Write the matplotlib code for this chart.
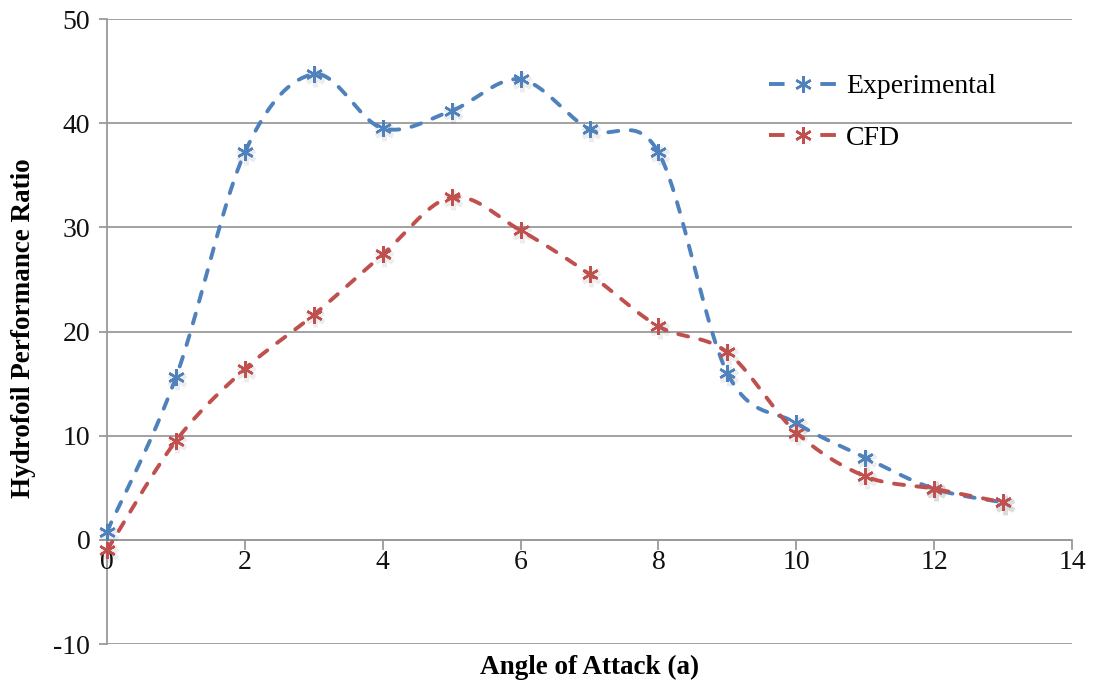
import numpy as np
import matplotlib
matplotlib.use("Agg")
import matplotlib.pyplot as plt
import matplotlib.transforms as mtransforms
from matplotlib.lines import Line2D

angles = [0, 1, 2, 3, 4, 5, 6, 7, 8, 9, 10, 11, 12, 13]
experimental = [0.8, 15.6, 37.2, 44.7, 39.5, 41.2, 44.2, 39.4, 37.2, 16.0, 11.2, 7.9, 4.9, 3.6]
cfd = [-1.0, 9.5, 16.4, 21.6, 27.4, 32.9, 29.7, 25.5, 20.5, 18.0, 10.3, 6.1, 4.9, 3.6]

series_names = ["Experimental", "CFD"]
series_colors = ["#4F81BD", "#C0504D"]
x_ticks = [0, 2, 4, 6, 8, 10, 12, 14]
y_ticks = [-10, 0, 10, 20, 30, 40, 50]

plt.rcParams["font.family"] = ["Liberation Serif", "DejaVu Serif"]


def smooth(xs, ys, n=40):
    """Bezier smoothing through every point (spreadsheet-style smoothed line)."""
    p = np.column_stack([xs, ys]).astype(float)
    out = []
    for i in range(len(p) - 1):
        p0 = p[i - 1] if i > 0 else p[i]
        p1, p2 = p[i], p[i + 1]
        p3 = p[i + 2] if i + 2 < len(p) else p[i + 1]
        c1 = p1 + (p2 - p0) / 6.0
        c2 = p2 - (p3 - p1) / 6.0
        t = np.linspace(0, 1, n)[:, None]
        seg = ((1 - t) ** 3) * p1 + 3 * ((1 - t) ** 2) * t * c1 + 3 * (1 - t) * t ** 2 * c2 + t ** 3 * p2
        out.append(seg if i == 0 else seg[1:])
    arr = np.vstack(out)
    return arr[:, 0], arr[:, 1]


fig = plt.figure(figsize=(11.01, 6.88), dpi=100)
ax = fig.add_axes([107 / 1101, 1 - 644 / 688, (1072 - 107) / 1101, (644 - 19) / 688])
ax.set_xlim(0, 14)
ax.set_ylim(-10, 50)

grid_c = "#9A9A9A"
for yv in y_ticks:
    ax.axhline(yv, color=grid_c, lw=1.3, zorder=1)

for s in ["top", "right", "bottom"]:
    ax.spines[s].set_visible(False)
ax.spines["left"].set_color(grid_c)
ax.spines["left"].set_linewidth(1.3)

# horizontal axis crosses at zero
ax.axhline(0, color=grid_c, lw=1.3, zorder=1)
for xv in x_ticks:
    ax.plot([xv, xv], [0, -0.9], color=grid_c, lw=1.3, clip_on=False, zorder=1)
    ax.text(xv, -1.0, str(xv), ha="center", va="top", fontsize=20, color="#111111")

ax.set_xticks([])
ax.set_yticks(y_ticks)
ax.set_yticklabels([str(v) for v in y_ticks], fontsize=20, color="#111111")
ax.tick_params(axis="y", length=6, width=1.3, color=grid_c, pad=6)

marker = (6, 2, 0)
line_kw = dict(lw=2.8, dashes=(2.6, 3.2), dash_capstyle="round")
shadow = mtransforms.offset_copy(ax.transData, fig=fig, x=1.5, y=-2.5, units="dots")
for ys, name, col in zip([experimental, cfd], series_names, series_colors):
    sx, sy = smooth(angles, ys)
    ax.plot(sx, sy, color=col, zorder=3, **line_kw)
    ax.plot(angles, ys, linestyle="none", marker=marker, markersize=14,
            markeredgewidth=3.5, color="#000000", alpha=0.07, zorder=2,
            transform=shadow, clip_on=False)
    ax.plot(angles, ys, linestyle="none", marker=marker, markersize=12,
            markeredgewidth=1.8, color=col, zorder=4, clip_on=False)

handles = [Line2D([], [], color=c, lw=2.8, dashes=(4.0, 9.2), marker=marker,
                  markersize=12, markeredgewidth=1.8) for c in series_colors]
fig.legend(handles, series_names, loc="upper left",
           bbox_to_anchor=(769 / 1101, 1 - 74 / 688), frameon=False, fontsize=20,
           handlelength=2.48, handletextpad=0.29, labelspacing=0.94,
           borderpad=0, borderaxespad=0, markerscale=1.0)

fig.text(590 / 1101, 1 - 667 / 688, "Angle of Attack (a)", ha="center", va="center",
         fontsize=19.5, fontweight="bold")
fig.text(24 / 1101, 1 - 328 / 688, "Hydrofoil Performance Ratio", ha="center", va="center",
         rotation=90, fontsize=19.5, fontweight="bold")

fig.savefig("out.png", dpi=100)
